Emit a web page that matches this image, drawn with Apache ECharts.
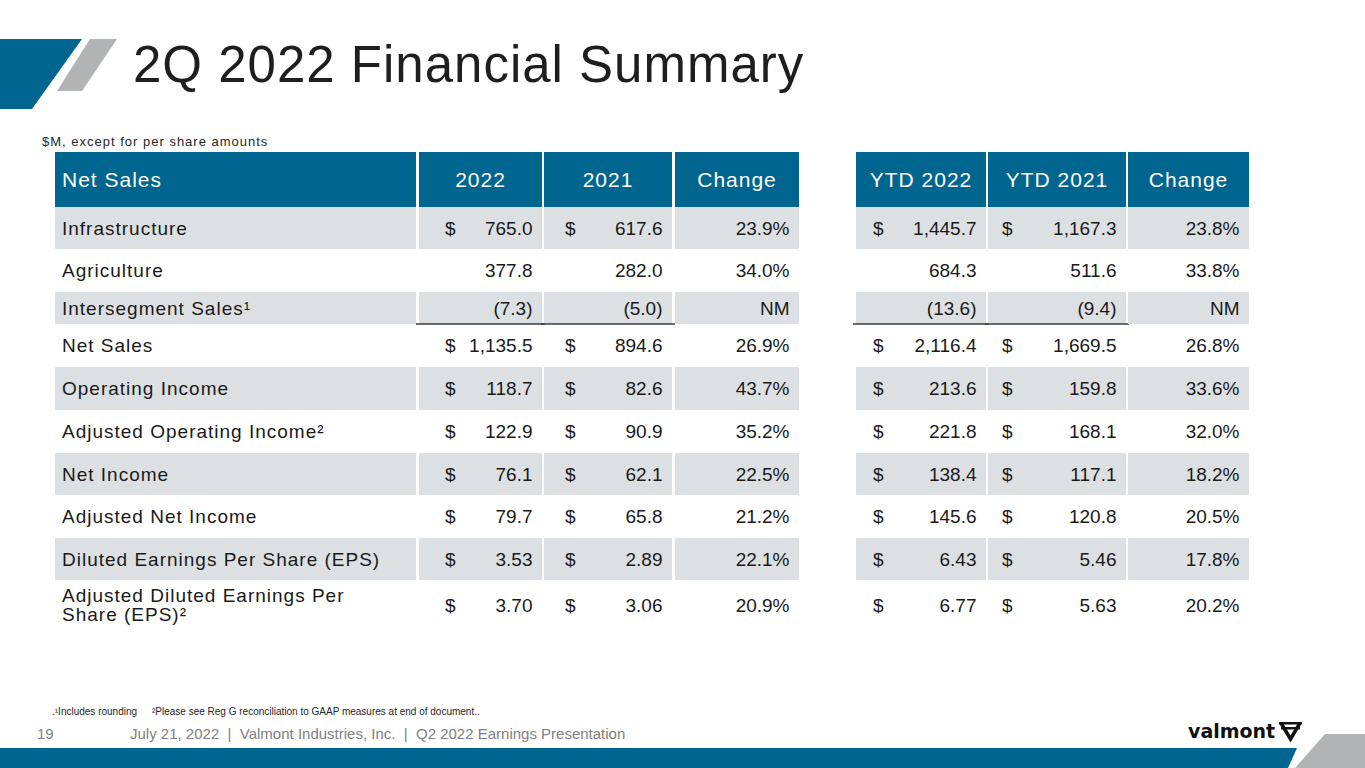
<!DOCTYPE html>
<html>
<head>
<meta charset="utf-8">
<title>2Q 2022 Financial Summary</title>
<script src="https://cdn.jsdelivr.net/npm/echarts@6/dist/echarts.min.js"></script>
<style>
html, body { margin: 0; padding: 0; background: #fff; }
#main { width: 1365px; height: 768px; }
/* spaced text (labels, headers, title) uses the "sans-serif" family list */
#main text[style*="sans-serif"] { letter-spacing: 1px; }
</style>
</head>
<body>
<div id="main"></div>
<script>
// ---- data ----
var headers = ['Net Sales', '2022', '2021', 'Change', 'YTD 2022', 'YTD 2021', 'Change'];
var rowLabels = [
	'Infrastructure',
	'Agriculture',
	'Intersegment Sales¹',
	'Net Sales',
	'Operating Income',
	'Adjusted Operating Income²',
	'Net Income',
	'Adjusted Net Income',
	'Diluted Earnings Per Share (EPS)',
	'Adjusted Diluted Earnings Per\nShare (EPS)²'
];
var q2022 = [765.0, 377.8, -7.3, 1135.5, 118.7, 122.9, 76.1, 79.7, 3.53, 3.70];
var q2021 = [617.6, 282.0, -5.0, 894.6, 82.6, 90.9, 62.1, 65.8, 2.89, 3.06];
var qChange = [23.9, 34.0, null, 26.9, 43.7, 35.2, 22.5, 21.2, 22.1, 20.9];
var ytd2022 = [1445.7, 684.3, -13.6, 2116.4, 213.6, 221.8, 138.4, 145.6, 6.43, 6.77];
var ytd2021 = [1167.3, 511.6, -9.4, 1669.5, 159.8, 168.1, 117.1, 120.8, 5.46, 5.63];
var ytdChange = [23.8, 33.8, null, 26.8, 33.6, 32.0, 18.2, 20.5, 17.8, 20.2];
var decimals = [1, 1, 1, 1, 1, 1, 1, 1, 2, 2];
var dollarRows = [true, false, false, true, true, true, true, true, true, true];
var subtotalRow = 2; // line drawn under this row

// ---- layout ----
var colEdges = [[55, 416], [419, 542], [544, 672], [675, 799], [856, 986], [988, 1126], [1128, 1249]];
var rowEdges = [152, 207, 249, 292, 324, 367, 410, 453, 495, 538, 580, 630];
var dollarPad = [0, 26, 21, 0, 17, 14, 0];
var BLUE = '#00668f';
var GRAY = '#dde0e3';
var INK = '#1a1a1a';
var SPACED = "'Liberation Sans', sans-serif";
var PLAIN = "'Liberation Sans', Arial";

var colValues = [null, q2022, q2021, qChange, ytd2022, ytd2021, ytdChange];

function fmtMoney(v, d) {
	var s = Math.abs(v).toLocaleString('en-US', { minimumFractionDigits: d, maximumFractionDigits: d });
	return v < 0 ? '(' + s + ')' : s;
}
function fmtPct(v) {
	return v == null ? 'NM' : v.toFixed(1) + '%';
}

var cells = [];
for (var r = 0; r <= rowLabels.length; r++) {
	for (var c = 0; c < headers.length; c++) {
		cells.push([c, r]);
	}
}

function renderCell(params, api) {
	var c = api.value(0), r = api.value(1);
	var tl = api.coord([colEdges[c][0], rowEdges[r]]);
	var br = api.coord([colEdges[c][1], rowEdges[r + 1]]);
	var x0 = tl[0], y0 = tl[1], x1 = br[0], y1 = br[1];
	var ym = (y0 + y1) / 2;
	var kids = [];
	var fill = r === 0 ? BLUE : (r % 2 === 1 ? GRAY : null);
	if (fill) {
		kids.push({ type: 'rect', shape: { x: x0, y: y0, width: x1 - x0, height: y1 - y0 }, style: { fill: fill } });
	}
	if (r === 0) {
		kids.push({
			type: 'text',
			style: {
				text: headers[c], x: c === 0 ? x0 + 7 : (x0 + x1) / 2, y: ym,
				align: c === 0 ? 'left' : 'center', verticalAlign: 'middle',
				fill: '#fff', font: '21px ' + SPACED
			}
		});
		return { type: 'group', children: kids };
	}
	var i = r - 1;
	if (c === 0) {
		kids.push({
			type: 'text',
			style: {
				text: rowLabels[i], x: x0 + 7, y: ym, align: 'left', verticalAlign: 'middle',
				fill: INK, font: '19px ' + SPACED, lineHeight: 19
			}
		});
		return { type: 'group', children: kids };
	}
	var v = colValues[c][i];
	var isPct = c === 3 || c === 6;
	kids.push({
		type: 'text',
		style: {
			text: isPct ? fmtPct(v) : fmtMoney(v, decimals[i]), x: x1 - 9.5, y: ym,
			align: 'right', verticalAlign: 'middle', fill: INK, font: '19px ' + PLAIN
		}
	});
	if (!isPct && dollarRows[i]) {
		kids.push({
			type: 'text',
			style: { text: '$', x: x0 + dollarPad[c], y: ym, align: 'left', verticalAlign: 'middle', fill: INK, font: '19px ' + PLAIN }
		});
	}
	if (!isPct && i === subtotalRow) {
		kids.push({
			type: 'line',
			shape: { x1: x0 - 3, y1: y1, x2: x1 + 3, y2: y1 },
			style: { stroke: '#3c3c3c', lineWidth: 1.5 }
		});
	}
	return { type: 'group', children: kids };
}

var chart = echarts.init(document.getElementById('main'), null, { renderer: 'svg' });

var option = {
	backgroundColor: '#fff',
	animation: false,
	grid: { left: 0, right: 0, top: 0, bottom: 0 },
	xAxis: { type: 'value', min: 0, max: 1365, show: false },
	yAxis: { type: 'value', min: 0, max: 768, inverse: true, show: false },
	series: [{
		type: 'custom',
		coordinateSystem: 'cartesian2d',
		silent: true,
		renderItem: renderCell,
		data: cells
	}],
	graphic: [
		// top-left slashes
		{ type: 'polygon', shape: { points: [[0, 39], [82, 39], [32, 109], [0, 109]] }, style: { fill: BLUE } },
		{ type: 'polygon', shape: { points: [[90, 39], [117, 39], [82, 91], [57, 91]] }, style: { fill: '#b1b3b5' } },
		{ type: 'text', style: { text: '2Q 2022 Financial Summary', x: 133, y: 64, verticalAlign: 'middle', fill: '#1e1e1e', font: '51px ' + SPACED } },
		{ type: 'text', style: { text: '$M, except for per share amounts', x: 42, y: 141, verticalAlign: 'middle', fill: '#262626', font: '13px ' + SPACED } },
		// footnotes
		{ type: 'text', style: { text: '.¹Includes rounding', x: 52, y: 711, verticalAlign: 'middle', fill: '#262626', font: '10px ' + PLAIN } },
		{ type: 'text', style: { text: '²Please see Reg G reconciliation to GAAP measures at end of document..', x: 152, y: 711, verticalAlign: 'middle', fill: '#262626', font: '10px ' + PLAIN } },
		// footer
		{ type: 'text', style: { text: '19', x: 37, y: 733, verticalAlign: 'middle', fill: '#808080', font: '15px ' + PLAIN } },
		{ type: 'text', style: { text: 'July 21, 2022  |  Valmont Industries, Inc.  |  Q2 2022 Earnings Presentation', x: 130, y: 733, verticalAlign: 'middle', fill: '#808080', font: '15px ' + PLAIN } },
		// bottom band
		{ type: 'polygon', shape: { points: [[0, 748], [1297, 748], [1288, 768], [0, 768]] }, style: { fill: BLUE } },
		{ type: 'polygon', shape: { points: [[1325, 734], [1365, 734], [1365, 768], [1295, 768]] }, style: { fill: '#b1b3b5' } },
		// logo
		{ type: 'text', style: { text: 'valmont', x: 1188, y: 731, verticalAlign: 'middle', fill: '#111', font: "bold 19px 'DejaVu Sans', Arial" } },
		{ type: 'rect', shape: { x: 1279, y: 722, width: 23, height: 2.5 }, style: { fill: '#111' } },
		{ type: 'rect', shape: { x: 1281, y: 727, width: 19, height: 2.5 }, style: { fill: '#111' } },
		{ type: 'polyline', shape: { points: [[1281, 723], [1290.5, 739], [1300, 723]] }, style: { stroke: '#111', lineWidth: 3.5, fill: null } }
	]
};

if (option && typeof option === 'object') {
	chart.setOption(option, true);
}
</script>
</body>
</html>
